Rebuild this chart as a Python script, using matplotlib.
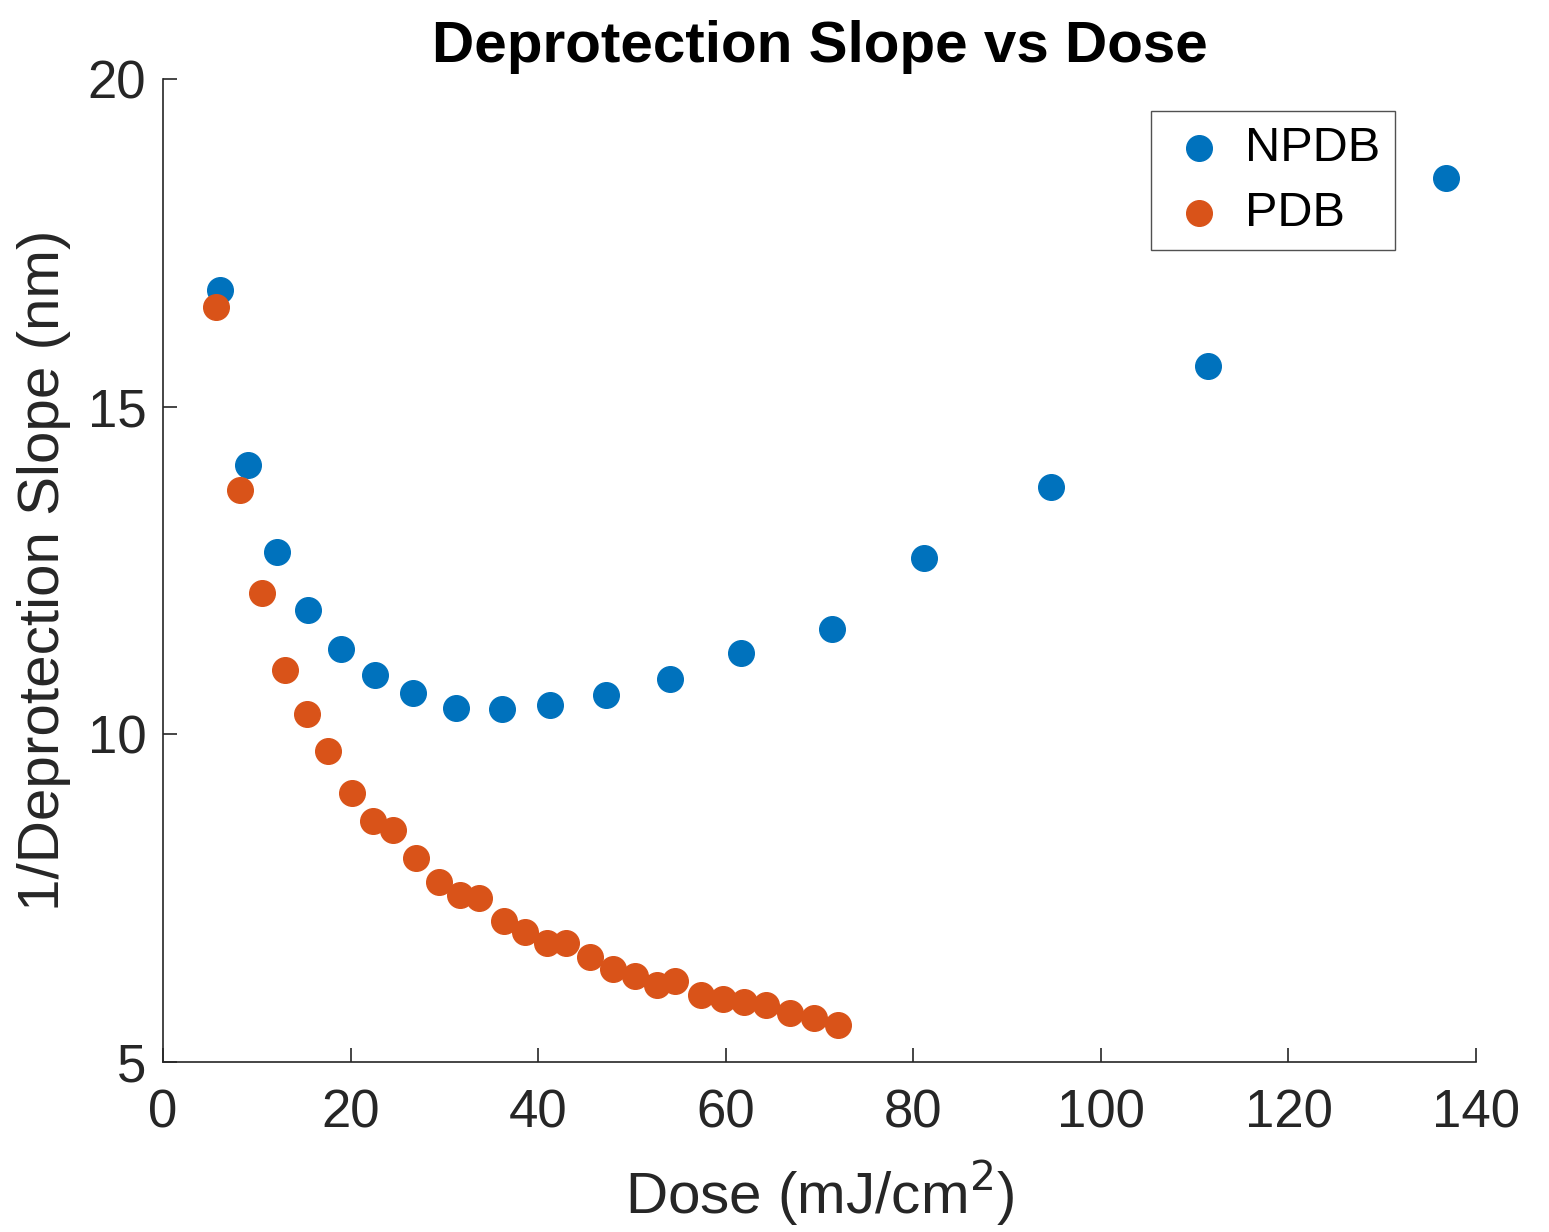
import matplotlib.pyplot as plt

plt.rcParams['font.family'] = ['Liberation Sans', 'DejaVu Sans']

# NPDB
dose_npdb = [6.1, 9.1, 12.2, 15.5, 19.0, 22.6, 26.7, 31.2, 36.1, 41.3, 47.2,
             54.1, 61.6, 71.3, 81.1, 94.7, 111.4, 136.8]
slope_npdb = [16.78, 14.11, 12.78, 11.90, 11.30, 10.91, 10.63, 10.40, 10.39,
              10.45, 10.60, 10.84, 11.24, 11.61, 12.69, 13.77, 15.62, 18.49]

# PDB
dose_pdb = [5.65, 8.2, 10.6, 13.0, 15.35, 17.6, 20.15, 22.4, 24.5, 27.0, 29.4,
            31.7, 33.7, 36.4, 38.6, 40.9, 43.0, 45.5, 48.0, 50.3, 52.7, 54.6,
            57.4, 59.7, 62.0, 64.3, 66.9, 69.4, 72.0]
slope_pdb = [16.52, 13.73, 12.16, 10.98, 10.31, 9.75, 9.10, 8.68, 8.54, 8.11,
             7.75, 7.55, 7.50, 7.15, 6.98, 6.82, 6.82, 6.60, 6.42, 6.31, 6.17,
             6.23, 6.02, 5.96, 5.91, 5.87, 5.75, 5.67, 5.57]

fig = plt.figure(figsize=(15.49, 12.32), dpi=100)
ax = fig.add_axes([0.1052, 0.138, 0.8477, 0.7979])

ax.scatter(dose_npdb, slope_npdb, s=340, color='#0072BD', label='NPDB', zorder=3)
ax.scatter(dose_pdb, slope_pdb, s=340, color='#D95319', label='PDB', zorder=3)

ax.set_xlim(0, 140)
ax.set_ylim(5, 20)
ax.set_xticks(range(0, 141, 20))
ax.set_yticks([5, 10, 15, 20])

for side in ['top', 'right']:
    ax.spines[side].set_visible(False)
for side in ['left', 'bottom']:
    ax.spines[side].set_color('#262626')
    ax.spines[side].set_linewidth(1.2)

ax.tick_params(direction='in', length=10, width=1.2, colors='#262626',
               labelsize=38)
ax.tick_params(axis='x', pad=19)
ax.tick_params(axis='y', pad=12)

ax.set_xlabel('Dose (mJ/cm$^2$)', fontsize=42, color='#262626', labelpad=15)
ax.set_ylabel('1/Deprotection Slope (nm)', fontsize=42, color='#262626', labelpad=12)
ax.set_title('Deprotection Slope vs Dose', fontsize=42, fontweight='bold', pad=12)

leg = ax.legend(loc='upper right', bbox_to_anchor=(0.9383, 0.9674), fontsize=35,
                frameon=True, fancybox=False, borderaxespad=0,
                handletextpad=0.26, borderpad=0.3, labelspacing=0.41,
                handlelength=1.37)
leg.get_frame().set_edgecolor('#262626')
leg.get_frame().set_linewidth(1.0)

fig.savefig('out.png', dpi=100)
